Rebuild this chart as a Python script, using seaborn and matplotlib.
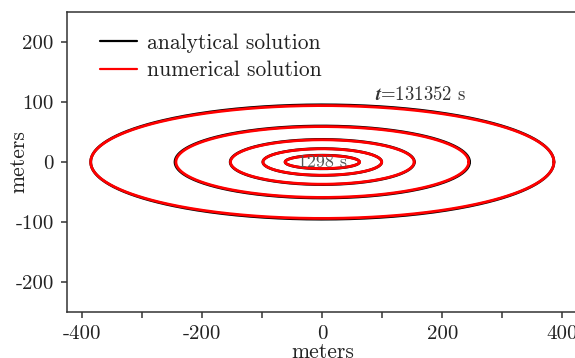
import numpy as np
import pandas as pd
import matplotlib
matplotlib.use('Agg')
import matplotlib.pyplot as plt
from matplotlib.ticker import MultipleLocator, FuncFormatter
import seaborn as sns

# semi-axes of the spreading ellipses (meters)
rings = [1, 2, 3, 4, 5]
num_a = [62, 99, 153, 244, 386]
num_b = [11, 22, 37, 59, 94]
ana_a = [62, 99, 153.5, 245.5, 386]
ana_b = [11.3, 22.3, 37.6, 60, 95.3]
t_first = 1298
t_last = 131352

# build outline table for seaborn
theta = np.linspace(0, 2 * np.pi, 400)
rows = []
for name, aa, bb in [('analytical solution', ana_a, ana_b),
                     ('numerical solution', num_a, num_b)]:
    for r, a, b in zip(rings, aa, bb):
        rows.append(pd.DataFrame({'x': a * np.cos(theta), 'y': b * np.sin(theta),
                                  'ring': r, 'solution': name}))
df = pd.concat(rows, ignore_index=True)

sns.set_style('ticks')
plt.rcParams['font.family'] = 'cmr10'
plt.rcParams['mathtext.fontset'] = 'cm'
plt.rcParams['axes.unicode_minus'] = False
plt.rcParams['axes.formatter.use_mathtext'] = True

fig = plt.figure(figsize=(5.75, 3.58), dpi=100)
ax = fig.add_axes([67 / 575, 46 / 358, 518 / 575, 300 / 358])

sns.lineplot(data=df, x='x', y='y', hue='solution', units='ring', estimator=None,
             sort=False, palette={'analytical solution': 'black', 'numerical solution': 'red'},
             hue_order=['analytical solution', 'numerical solution'], linewidth=2.0, ax=ax)

ax.set_xlim(-425.5, 437.8)
ax.set_ylim(-250, 250)

ax.xaxis.set_major_locator(MultipleLocator(100))
ax.xaxis.set_major_formatter(FuncFormatter(lambda v, p: '%d' % v if round(v) % 200 == 0 else ''))
ax.yaxis.set_major_locator(MultipleLocator(100))
ax.yaxis.set_major_formatter(FuncFormatter(lambda v, p: '%d' % v))
ax.tick_params(axis='both', labelsize=15, length=4.5, width=1.1, color='#333333',
               labelcolor='#222222', pad=5)
for s in ax.spines.values():
    s.set_linewidth(1.1)
    s.set_color('#333333')
ax.spines['right'].set_visible(False)

ax.set_xlabel('meters', fontsize=15.5, color='#222222', va='center')
ax.set_ylabel('meters', fontsize=15.5, color='#222222', va='center')
ax.xaxis.set_label_coords(0.493, -0.133)
ax.yaxis.set_label_coords(-0.094, 0.5)

ax.text(0, 0, '%d s' % t_first, ha='center', va='center', fontsize=13, color='#555555')
ax.text(88, 104, r'$\boldsymbol{t}$=%d s' % t_last, ha='left', va='baseline',
        fontsize=13.5, color='#333333')

h, l = ax.get_legend_handles_labels()
leg = ax.legend(h, l, loc='upper left', bbox_to_anchor=(0.047, 0.958), frameon=False,
                fontsize=15.5, handlelength=1.7, handletextpad=0.5, labelspacing=0.38,
                borderaxespad=0)
for t in leg.get_texts():
    t.set_color('#222222')
for ln in leg.get_lines():
    ln.set_linewidth(1.6)

plt.savefig('out.png', dpi=100)
